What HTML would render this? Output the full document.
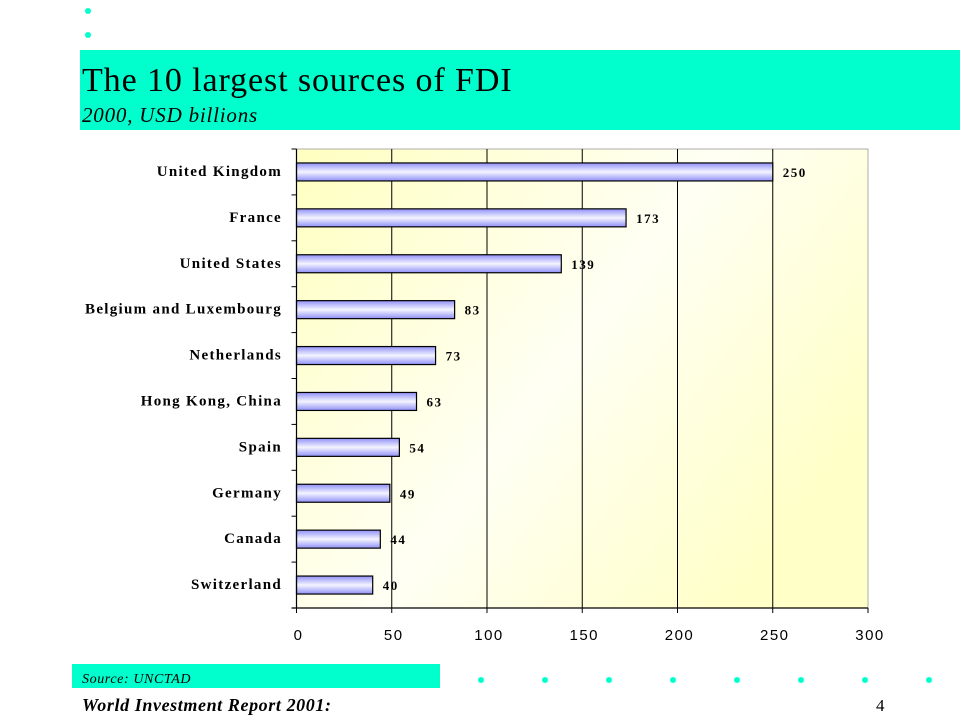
<!DOCTYPE html>
<html><head><meta charset="utf-8"><style>
body{margin:0;width:960px;height:720px;background:#fff;overflow:hidden;font-family:"Liberation Serif",serif}
</style></head><body>
<svg width="960" height="720" xmlns="http://www.w3.org/2000/svg">
<defs>
<linearGradient id="bg" x1="0" y1="0" x2="1" y2="0.6"><stop offset="0" stop-color="#ffffc0"/><stop offset="0.55" stop-color="#fffff4"/><stop offset="1" stop-color="#ffffc8"/></linearGradient>
<linearGradient id="bar" x1="0" y1="0" x2="0" y2="1"><stop offset="0" stop-color="#9090f8"/><stop offset="0.5" stop-color="#f4f4ff"/><stop offset="1" stop-color="#9090f8"/></linearGradient>
</defs>
<circle cx="88" cy="11" r="3" fill="#00ffcc"/>
<circle cx="88" cy="35" r="3" fill="#00ffcc"/>
<rect x="80" y="50" width="880" height="80" fill="#00ffcc"/>
<text x="82" y="91" font-size="34" letter-spacing="0.9" fill="#000">The 10 largest sources of FDI</text>
<text x="82" y="122" font-size="21" letter-spacing="0.8" font-style="italic" fill="#000">2000, USD billions</text>
<g id="chart"></g>
<rect x="72" y="664" width="368" height="24" fill="#00ffcc"/>
<text x="82" y="683" font-size="14" letter-spacing="0.6" font-style="italic">Source: UNCTAD</text>
<text x="82" y="711" font-size="18" letter-spacing="0.6" font-style="italic" font-weight="bold">World Investment Report 2001:</text>
<text x="876" y="711" font-size="17">4</text>
<g id="dots"></g>
</svg>
<script>
const categories=["United Kingdom","France","United States","Belgium and Luxembourg","Netherlands","Hong Kong, China","Spain","Germany","Canada","Switzerland"];
const values=[250,173,139,83,73,63,54,49,44,40];
const ticks=[0,50,100,150,200,250,300];
const NS="http://www.w3.org/2000/svg";
const g=document.getElementById('chart');
const L=296.5,R=868,T=149,B=608;
const x=v=>L+(v-0)/(300-0)*(R-L);
const band=(B-T)/categories.length;
const yc=i=>T+band*(i+0.5);
function mk(t,a,p){const e=document.createElementNS(NS,t);for(const k in a)e.setAttribute(k,a[k]);(p||g).appendChild(e);return e;}
let e=mk('rect',{x:L,y:T,width:R-L,height:B-T,fill:'url(#bg)',stroke:'#999','stroke-width':0.8});


ticks.forEach(t=>{
 if(t>0&&t<300){const l=mk('line',{x1:x(t),x2:x(t),y1:T,y2:B,stroke:'#000','stroke-width':1});
 
 }
 const tk=mk('line',{x1:x(t),x2:x(t),y1:B,y2:B+5,stroke:'#000'});
 
 
 const tx=mk('text',{x:x(t)+2,y:B+32,'font-size':15,'text-anchor':'middle','font-family':'Liberation Sans, sans-serif','letter-spacing':'1.5'});
 tx.textContent=t;
 
 
});
for(let i=0;i<=categories.length;i++){const tk=mk('line',{x1:L-5,x2:L,y1:T+band*i,y2:T+band*i,stroke:'#000'});
 
 }
categories.forEach((c,i)=>{
 const r=mk('rect',{x:L,y:yc(i)-9,width:x(values[i])-L,height:18,fill:'url(#bar)',stroke:'#000','stroke-width':1.2});
 
 
 const v=mk('text',{x:x(values[i])+10,y:yc(i)+5,'font-size':13,'font-weight':'bold','letter-spacing':'1.5'});
 v.textContent=values[i];
 
 
 const lb=mk('text',{x:282,y:yc(i)+4,'font-size':15,'font-weight':'bold','text-anchor':'end','letter-spacing':'1.3'});
 lb.textContent=c;
 
 
});
e=mk('line',{x1:L,x2:L,y1:T,y2:B,stroke:'#000','stroke-width':1.2});


e=mk('line',{x1:L-5,x2:R,y1:B,y2:B,stroke:'#000','stroke-width':1.2});


const d=document.getElementById('dots');
for(let k=0;k<8;k++){const c=mk('circle',{cx:481+64*k,cy:680,r:3,fill:'#00ffcc'},d);
 
 }
</script>
</body></html>
